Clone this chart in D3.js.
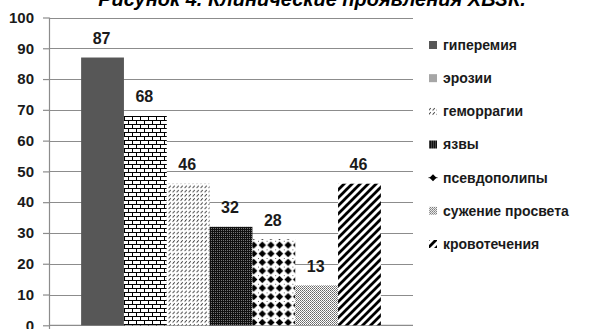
<!DOCTYPE html>
<html>
<head>
<meta charset="utf-8">
<script src="https://cdn.jsdelivr.net/npm/d3@7"></script>
<style>
  html, body { margin: 0; padding: 0; background: #fff; }
  svg { display: block; font-family: "Liberation Sans", Arial, sans-serif; }
</style>
</head>
<body>
<svg id="chart" width="589" height="329"></svg>
<script>
// Clinical manifestations, % of patients
const titleText = "Рисунок 4. Клинические проявления ХВЗК.";
const seriesNames = ["гиперемия", "эрозии", "геморрагии", "язвы", "псевдополипы", "сужение просвета", "кровотечения"];
const seriesValues = [87, 68, 46, 32, 28, 13, 46];
const yTicks = [0, 10, 20, 30, 40, 50, 60, 70, 80, 90, 100];

const svg = d3.select("#chart");
const defs = svg.append("defs");

// Fill patterns, one per series
function pattern(id, w, h, draw) {
  const p = defs.append("pattern").attr("id", id)
    .attr("patternUnits", "userSpaceOnUse").attr("width", w).attr("height", h);
  p.append("rect").attr("width", w).attr("height", h).attr("fill", "#fff");
  draw(p);
}
// bricks
pattern("p-brick", 8, 8, p => {
  p.append("path").attr("d", "M0,0.5H8M0,4.5H8M0.5,0V4M4.5,4V8")
    .attr("stroke", "#000").attr("stroke-width", 1).attr("fill", "none");
});
// short dashed upward diagonals
pattern("p-dash", 4, 4.2, p => {
  p.append("path").attr("d", "M0.6,3.2L2.8,1").attr("stroke", "#333")
    .attr("stroke-width", 0.9).attr("fill", "none");
});
// dense dark texture
pattern("p-dark", 2, 2, p => {
  p.append("rect").attr("width", 2).attr("height", 2).attr("fill", "#111");
  p.append("rect").attr("x", 1).attr("width", 1).attr("height", 1).attr("fill", "#777");
});
// solid diamonds
pattern("p-diamond", 8.6, 8.6, p => {
  p.append("path").attr("d", "M4.3,0.6L8,4.3L4.3,8L0.6,4.3Z").attr("fill", "#000");
  p.append("path").attr("d", "M0,0H0.8V0.8H0Z").attr("fill", "#000");
});
// fine checker
pattern("p-check", 2, 2, p => {
  p.append("rect").attr("width", 1).attr("height", 1).attr("fill", "#666");
  p.append("rect").attr("x", 1).attr("y", 1).attr("width", 1).attr("height", 1).attr("fill", "#888");
});
// wide upward diagonal stripes
pattern("p-stripe", 8, 8, p => {
  p.append("path").attr("d", "M-2,2L2,-2M0,8L8,0M6,10L10,6").attr("stroke", "#000")
    .attr("stroke-width", 2.8).attr("fill", "none");
});

const fills = ["#575757", "url(#p-brick)", "url(#p-dash)", "url(#p-dark)", "url(#p-diamond)", "url(#p-check)", "url(#p-stripe)"];
const legendFills = ["#575757", "#a6a6a6", "url(#p-dash)", "url(#p-dark)", null, "url(#p-check)", "url(#p-stripe)"];

const plot = { left: 49, right: 413, top: 17.5, bottom: 325.3 };

const x = d3.scaleBand().domain(seriesNames)
  .range([plot.left, plot.right]).paddingInner(0).paddingOuter(0.75);
const y = d3.scaleLinear().domain([0, 100]).range([plot.bottom, plot.top]);

// title (partly above the visible area)
svg.append("text").attr("x", 312).attr("y", 5.5).attr("text-anchor", "middle")
  .attr("font-size", 20).attr("font-weight", "bold").attr("font-style", "italic")
  .attr("fill", "#000").text(titleText);

// gridlines
svg.append("g").selectAll("line").data(yTicks.filter(d => d > 0)).join("line")
  .attr("x1", plot.left).attr("x2", plot.right)
  .attr("y1", d => Math.round(y(d)) + 0.5).attr("y2", d => Math.round(y(d)) + 0.5)
  .attr("stroke", "#8c8c8c").attr("stroke-width", 1.2);

// y axis
const yAxis = d3.axisLeft(y).tickValues(yTicks).tickSize(6).tickPadding(9);
const gy = svg.append("g").attr("transform", `translate(${plot.left},0)`).call(yAxis);
gy.select(".domain").attr("stroke", "#8c8c8c").attr("stroke-width", 1.2)
  .attr("d", `M0.5,${plot.top}V${plot.bottom + 10}`);
gy.selectAll(".tick line").attr("stroke", "#8c8c8c").attr("stroke-width", 1.2);
gy.selectAll(".tick text").attr("font-size", 15).attr("font-weight", "bold")
  .attr("fill", "#1a1a1a").attr("font-family", "'Liberation Sans', Arial, sans-serif");

// x axis baseline
svg.append("line").attr("x1", plot.left).attr("x2", plot.right)
  .attr("y1", y(0)).attr("y2", y(0)).attr("stroke", "#8c8c8c").attr("stroke-width", 1.2);

// bars
svg.append("g").selectAll("rect").data(seriesNames).join("rect")
  .attr("x", d => x(d)).attr("width", x.bandwidth())
  .attr("y", (d, i) => y(seriesValues[i]))
  .attr("height", (d, i) => y(0) - y(seriesValues[i]))
  .attr("fill", (d, i) => fills[i]);

// value labels
svg.append("g").selectAll("text").data(seriesNames).join("text")
  .attr("x", d => x(d) + x.bandwidth() / 2 - 1)
  .attr("y", (d, i) => y(seriesValues[i]) - 13.5)
  .attr("text-anchor", "middle").attr("font-size", 16).attr("font-weight", "bold")
  .attr("fill", "#1a1a1a").text((d, i) => seriesValues[i]);

// legend
const legend = svg.append("g");
const legendY = d3.scalePoint().domain(seriesNames).range([45, 244]);
const items = legend.selectAll("g").data(seriesNames).join("g")
  .attr("transform", d => `translate(0,${legendY(d)})`);
items.each(function (d, i) {
  const g = d3.select(this);
  if (legendFills[i]) {
    g.append("rect").attr("x", 429).attr("y", -4).attr("width", 8).attr("height", 8)
      .attr("fill", legendFills[i]);
  } else {
    g.append("path").attr("d", "M433,-3.5L436.5,0L433,3.5L429.5,0Z").attr("fill", "#000");
    g.append("path").attr("d", "M428.5,0H437.5").attr("stroke", "#000").attr("stroke-width", 0.8);
  }
  g.append("text").attr("x", 443).attr("y", 0).attr("dy", "0.35em")
    .attr("font-size", 14).attr("font-weight", "bold").attr("fill", "#1a1a1a").text(d);
});
</script>
</body>
</html>
